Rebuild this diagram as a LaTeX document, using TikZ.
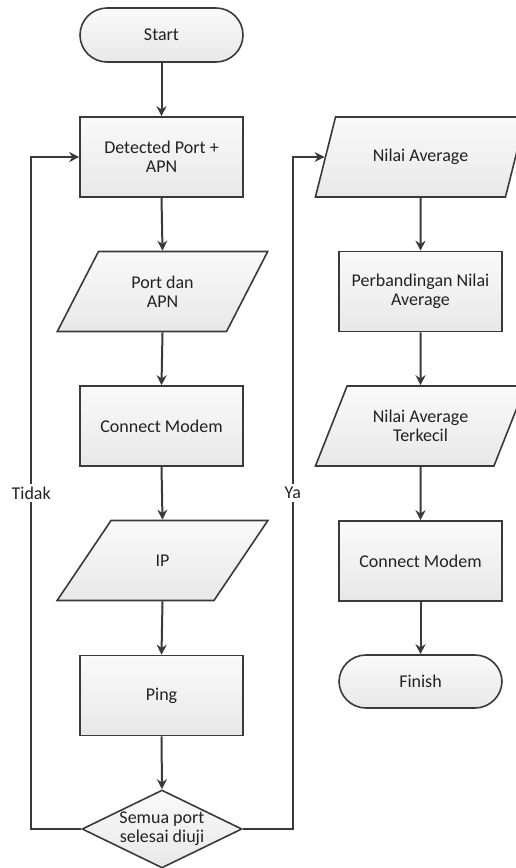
\documentclass[tikz,border=0pt]{standalone}
\usepackage{fontspec}
\setmainfont{Carlito}
\usetikzlibrary{shapes.geometric,arrows.meta}
\definecolor{linegray}{HTML}{3A3A3A}
\definecolor{textgray}{HTML}{222222}

\begin{document}
\begin{tikzpicture}[x=0.5pt, y=-0.5pt, font=\fontsize{9}{9.5}\selectfont, text=textgray,
    shapebase/.style={draw=linegray, line width=0.8pt, top color=white!98!black, bottom color=white!91!black, align=center, inner sep=1pt},
    procbox/.style={shapebase, rectangle, minimum width=81.5pt, minimum height=40pt},
    iobox/.style={shapebase, trapezium, trapezium left angle=59, trapezium right angle=121, trapezium stretches=true, minimum width=105.5pt, minimum height=40pt},
    termbox/.style={shapebase, rectangle, rounded corners=13.5pt, minimum width=81.5pt, minimum height=27pt},
    decbox/.style={shapebase, diamond, minimum width=80pt, minimum height=39pt, inner sep=0pt},
    flow/.style={draw=linegray, line width=1pt, -{Stealth[length=5pt,width=5pt]}},
    edgelabel/.style={fill=white, inner sep=1.5pt}]
        \useasboundingbox (0,0) rectangle (515,868);
        % left column
        \node[termbox] (start) at (161.5,35) {Start};
        \node[procbox] (det) at (161.5,157) {Detected Port +\\APN};
        \node[iobox] (pa) at (162.5,291.5) {Port dan\\APN};
        \node[procbox] (cm) at (161.5,426) {Connect Modem};
        \node[iobox] (ip) at (162.5,560.5) {IP};
        \node[procbox] (ping) at (161.5,695.5) {Ping};
        \node[decbox, label={[align=center]center:Semua port\\selesai diuji}] (dec) at (162,829) {};
        % right column
        \node[iobox] (na) at (420.5,157) {Nilai Average};
        \node[procbox] (perb) at (420.5,291.5) {Perbandingan Nilai\\Average};
        \node[iobox] (nat) at (420.5,426) {Nilai Average\\Terkecil};
        \node[procbox] (cm2) at (420.5,561) {Connect Modem};
        \node[termbox, minimum height=26.5pt] (fin) at (420.5,681.5) {Finish};
        % arrows
        \foreach \a/\b in {start/det,det/pa,pa/cm,cm/ip,ip/ping,ping/dec,na/perb,perb/nat,nat/cm2,cm2/fin} {
          \draw[flow] (\a.south) -- (\b.north);
        }
        \draw[flow] (dec.west) -- ++(-50,0) |- node[pos=0.25, edgelabel] {Tidak} (det.west);
        \draw[flow] (dec.east) -- ++(50,0) |- node[pos=0.25, edgelabel] {Ya} (na.west);
\end{tikzpicture}
\end{document}
